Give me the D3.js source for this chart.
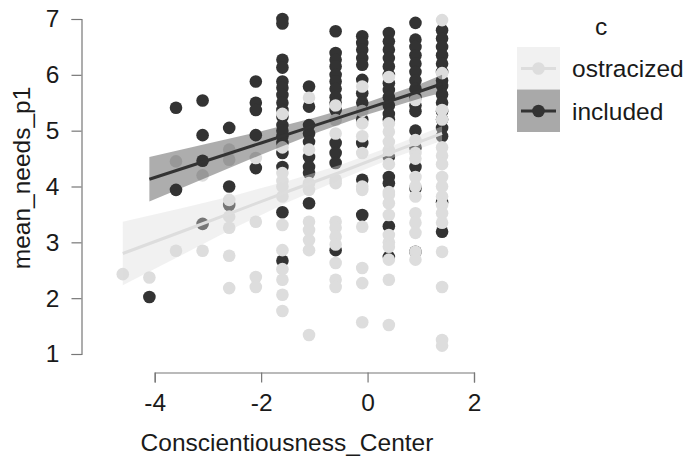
<!DOCTYPE html>
<html>
<head>
<meta charset="utf-8">
<script src="https://cdn.jsdelivr.net/npm/d3@7"></script>
<style>
  body { margin: 0; background: #fff; }
  text { font-family: "Liberation Sans", Arial, sans-serif; fill: #1a1a1a; }
</style>
</head>
<body>
<div id="chart"></div>
<script>
// points, one [x, y] pair each
const includedPts = [
  [-4.1, 2.02],
  [-3.6, 5.41], [-3.6, 3.94],
  [-3.1, 5.54], [-3.1, 4.92], [-3.1, 4.46], [-3.1, 3.33],
  [-2.6, 5.05], [-2.6, 4.0], [-2.6, 3.67],
  [-2.1, 5.88], [-2.1, 5.5], [-2.1, 5.37], [-2.1, 4.92], [-2.1, 4.33],
  [-1.6, 7.0], [-1.6, 6.92], [-1.6, 6.27], [-1.6, 6.13], [-1.6, 5.88], [-1.6, 5.77], [-1.6, 5.64],
  [-1.6, 5.5], [-1.6, 5.37], [-1.6, 5.25], [-1.6, 5.1], [-1.6, 5.0], [-1.6, 4.9], [-1.6, 4.78],
  [-1.6, 4.6], [-1.6, 4.35], [-1.6, 3.54], [-1.6, 2.67],
  [-1.1, 5.79], [-1.1, 5.43], [-1.1, 5.1], [-1.1, 4.95], [-1.1, 4.8], [-1.1, 4.53], [-1.1, 4.35],
  [-1.1, 4.24], [-1.1, 3.7],
  [-0.6, 6.78], [-0.6, 6.39], [-0.6, 6.27], [-0.6, 6.15], [-0.6, 6.0], [-0.6, 5.88], [-0.6, 5.75],
  [-0.6, 5.6], [-0.6, 5.5], [-0.6, 5.37], [-0.6, 4.78], [-0.6, 4.6], [-0.6, 4.42], [-0.6, 2.86],
  [-0.1, 6.69], [-0.1, 6.57], [-0.1, 6.45], [-0.1, 6.3], [-0.1, 6.18], [-0.1, 5.91], [-0.1, 5.67],
  [-0.1, 5.5], [-0.1, 5.2], [-0.1, 4.78], [-0.1, 4.12], [-0.1, 3.49],
  [0.4, 6.75], [0.4, 6.6], [0.4, 6.45], [0.4, 6.3], [0.4, 6.15], [0.4, 6.0], [0.4, 5.85], [0.4, 5.73],
  [0.4, 5.6], [0.4, 5.45], [0.4, 5.3], [0.4, 5.2], [0.4, 4.53], [0.4, 4.17], [0.4, 4.06], [0.4, 3.29],
  [0.4, 2.74],
  [0.9, 6.93], [0.9, 6.63], [0.9, 6.5], [0.9, 6.35], [0.9, 6.2], [0.9, 6.05], [0.9, 5.9], [0.9, 5.75],
  [0.9, 5.6], [0.9, 5.45], [0.9, 5.35], [0.9, 5.0], [0.9, 4.7], [0.9, 4.35], [0.9, 3.97], [0.9, 2.83],
  [1.4, 6.8], [1.4, 6.65], [1.4, 6.5], [1.4, 6.35], [1.4, 6.2], [1.4, 6.05], [1.4, 5.9], [1.4, 5.8],
  [1.4, 5.65], [1.4, 5.5], [1.4, 5.35], [1.4, 5.2], [1.4, 5.05], [1.4, 4.9], [1.4, 3.72], [1.4, 3.19]
];

const ostracizedPts = [
  [-4.6, 2.43],
  [-4.1, 2.37],
  [-3.6, 4.45], [-3.6, 2.85],
  [-3.1, 4.2], [-3.1, 2.85],
  [-2.6, 4.66], [-2.6, 4.48], [-2.6, 3.76], [-2.6, 3.46], [-2.6, 3.26], [-2.6, 2.76], [-2.6, 2.18],
  [-2.1, 4.51], [-2.1, 3.37], [-2.1, 2.38], [-2.1, 2.2],
  [-1.6, 5.3], [-1.6, 4.7], [-1.6, 4.24], [-1.6, 4.1], [-1.6, 4.0], [-1.6, 3.82], [-1.6, 3.31],
  [-1.6, 2.86], [-1.6, 2.52], [-1.6, 2.33], [-1.6, 2.06], [-1.6, 1.77],
  [-1.1, 5.59], [-1.1, 4.66], [-1.1, 4.06], [-1.1, 3.94], [-1.1, 3.37], [-1.1, 3.22], [-1.1, 3.04],
  [-1.1, 2.86], [-1.1, 1.34],
  [-0.6, 5.45], [-0.6, 5.19], [-0.6, 4.95], [-0.6, 4.12], [-0.6, 4.06], [-0.6, 3.37], [-0.6, 3.26],
  [-0.6, 3.1], [-0.6, 2.96], [-0.6, 2.63], [-0.6, 2.33], [-0.6, 2.2],
  [-0.1, 5.79], [-0.1, 5.35], [-0.1, 5.13], [-0.1, 4.9], [-0.1, 4.6], [-0.1, 4.0], [-0.1, 3.94],
  [-0.1, 3.28], [-0.1, 2.54], [-0.1, 2.27], [-0.1, 1.57],
  [0.4, 5.96], [0.4, 5.13], [0.4, 4.98], [0.4, 4.8], [0.4, 4.65], [0.4, 4.4], [0.4, 3.9], [0.4, 3.85],
  [0.4, 3.7], [0.4, 3.49], [0.4, 3.13], [0.4, 3.0], [0.4, 2.92], [0.4, 2.69], [0.4, 2.33], [0.4, 1.52],
  [0.9, 5.55], [0.9, 4.83], [0.9, 4.6], [0.9, 4.5], [0.9, 4.17], [0.9, 4.0], [0.9, 3.82], [0.9, 3.52],
  [0.9, 3.35], [0.9, 3.17], [0.9, 2.83], [0.9, 2.69],
  [1.4, 6.98], [1.4, 6.03], [1.4, 5.37], [1.4, 5.2], [1.4, 4.7], [1.4, 4.55], [1.4, 4.4], [1.4, 4.17],
  [1.4, 4.0], [1.4, 3.82], [1.4, 3.67], [1.4, 3.52], [1.4, 3.35], [1.4, 2.83], [1.4, 2.2], [1.4, 1.25],
  [1.4, 1.15]
];

// fitted lines and confidence bands
const includedFitX = [-4.1, -3, -2, -1, 0, 1, 1.4];
const includedFit = [4.13, 4.47, 4.78, 5.09, 5.40, 5.71, 5.84];
const includedLo = [3.73, 4.17, 4.57, 4.95, 5.29, 5.58, 5.68];
const includedHi = [4.53, 4.77, 4.99, 5.23, 5.51, 5.84, 6.00];

const ostracizedFitX = [-4.6, -3.5, -2.5, -1.5, -0.5, 0.5, 1.4];
const ostracizedFit = [2.80, 3.19, 3.55, 3.91, 4.26, 4.63, 4.95];
const ostracizedLo = [2.23, 2.77, 3.26, 3.72, 4.13, 4.52, 4.82];
const ostracizedHi = [3.37, 3.61, 3.84, 4.10, 4.39, 4.74, 5.08];

const xTicks = [-4, -2, 0, 2];
const yTicks = [1, 2, 3, 4, 5, 6, 7];
const groups = ['ostracized', 'included'];

const W = 686, H = 462;
const svg = d3.select('#chart').append('svg')
    .attr('width', W).attr('height', H);

const x = d3.scaleLinear().domain([-4, 2]).range([154.7, 474]);
const y = d3.scaleLinear().domain([1, 7]).range([354, 19]);

const col = { included: '#333333', ostracized: '#dddddd' };
const r = 6.3;

// points: dark first, light over them
svg.append('g').selectAll('circle')
    .data(includedPts)
    .enter().append('circle')
    .attr('cx', d => x(d[0])).attr('cy', d => y(d[1]))
    .attr('r', r).attr('fill', col.included);

svg.append('g').selectAll('circle')
    .data(ostracizedPts)
    .enter().append('circle')
    .attr('cx', d => x(d[0])).attr('cy', d => y(d[1]))
    .attr('r', r).attr('fill', col.ostracized);

// bands + lines
function drawFit(xs, fit, lo, hi, c) {
  const pts = xs.map((v, i) => ({ x: v, f: fit[i], lo: lo[i], hi: hi[i] }));
  svg.append('path').datum(pts)
      .attr('fill', c).attr('fill-opacity', 0.4)
      .attr('d', d3.area().x(d => x(d.x)).y0(d => y(d.lo)).y1(d => y(d.hi)));
  svg.append('path').datum(pts)
      .attr('fill', 'none').attr('stroke', c).attr('stroke-width', 3)
      .attr('d', d3.line().x(d => x(d.x)).y(d => y(d.f)));
}
drawFit(ostracizedFitX, ostracizedFit, ostracizedLo, ostracizedHi, col.ostracized);
drawFit(includedFitX, includedFit, includedLo, includedHi, col.included);

// axes
const axisCol = '#777';
const fs = 24.5;

const yAxis = svg.append('g').attr('transform', 'translate(81.5,0)')
    .call(d3.axisLeft(y).tickValues(yTicks).tickSize(10).tickPadding(12).tickFormat(d3.format('d')));
const xAxis = svg.append('g').attr('transform', 'translate(0,372.5)')
    .call(d3.axisBottom(x).tickValues(xTicks).tickSize(10).tickPadding(11).tickFormat(d => d < 0 ? '-' + Math.abs(d) : d));

[yAxis, xAxis].forEach(a => {
  a.select('.domain').attr('stroke', axisCol).attr('stroke-width', 1.2);
  a.selectAll('.tick line').attr('stroke', axisCol).attr('stroke-width', 1.2);
  a.selectAll('.tick text').attr('font-size', fs).attr('fill', '#1a1a1a')
      .attr('font-family', '"Liberation Sans", Arial, sans-serif');
});

svg.append('text')
    .attr('x', 287).attr('y', 451)
    .attr('text-anchor', 'middle').attr('font-size', fs)
    .text('Conscientiousness_Center');

svg.append('text')
    .attr('transform', 'translate(30,178) rotate(-90)')
    .attr('text-anchor', 'middle').attr('font-size', fs)
    .text('mean_needs_p1');

// legend
const leg = svg.append('g').attr('transform', 'translate(517,47)');
leg.append('text').attr('x', 84).attr('y', -12)
    .attr('text-anchor', 'middle').attr('font-size', fs).text('c');

const key = leg.selectAll('g.key')
    .data(groups)
    .enter().append('g').attr('class', 'key')
    .attr('transform', (d, i) => 'translate(0,' + i * 42.5 + ')');

key.append('rect').attr('width', 43).attr('height', 42.5)
    .attr('fill', d => d === 'included' ? '#a9a9a9' : '#f1f1f1');
key.append('line').attr('x1', 4).attr('x2', 39).attr('y1', 21.5).attr('y2', 21.5)
    .attr('stroke', d => col[d]).attr('stroke-width', 3);
key.append('circle').attr('cx', 21.5).attr('cy', 21.5).attr('r', r)
    .attr('fill', d => col[d]);
key.append('text').attr('x', 55).attr('y', 21.5).attr('dy', '0.35em')
    .attr('font-size', fs).text(d => d);
</script>
</body>
</html>
